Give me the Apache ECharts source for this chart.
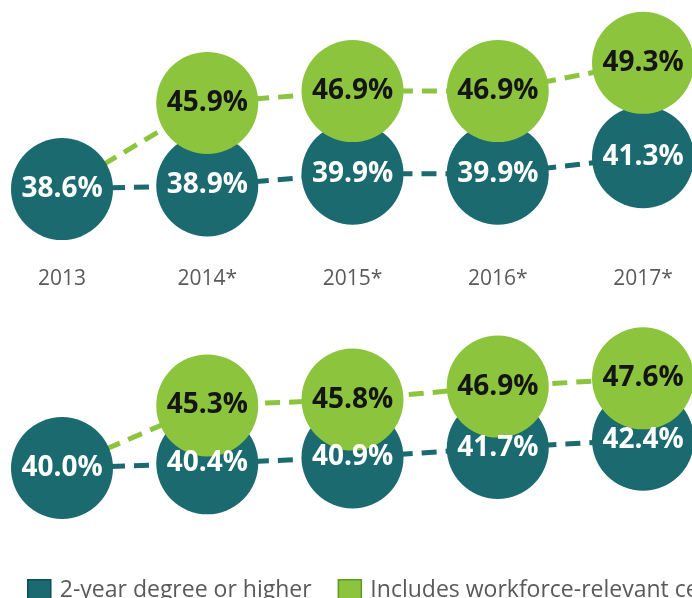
<!DOCTYPE html>
<html>
<head>
<meta charset="utf-8">
<script src="https://cdn.jsdelivr.net/npm/echarts@6/dist/echarts.min.js"></script>
<style>
  html, body { margin: 0; padding: 0; background: #ffffff; }
  #chart { width: 692px; height: 598px; }
</style>
</head>
<body>
<div id="chart"></div>
<script>
// Years shown along the bottom of the upper panel
const years = ['2013', '2014*', '2015*', '2016*', '2017*'];

// Upper panel
const degreeTop = [38.6, 38.9, 39.9, 39.9, 41.3];
const certTop = [null, 45.9, 46.9, 46.9, 49.3];

// Lower panel
const degreeBottom = [40.0, 40.4, 40.9, 41.7, 42.4];
const certBottom = [null, 45.3, 45.8, 46.9, 47.6];

const legendNames = ['2-year degree or higher', 'Includes workforce-relevant certificates'];

const TEAL = '#1b6a70';
const GREEN = '#8cc43e';

// Certificate line starts from the degree circle where no certificate value exists
function joinLine(cert, degree) {
  return cert.map((v, i) => (v == null ? degree[i] : v));
}

function pctLabel(color) {
  return {
    show: true,
    position: 'inside',
    color: color,
    opacity: 1,
    fontFamily: 'Open Sans',
    fontWeight: 'bold',
    fontSize: 28,
    formatter: p => p.value.toFixed(1) + '%'
  };
}

function panelSeries(idx, degree, cert) {
  const dash = { width: 5, type: [15, 9] };
  const axes = { xAxisIndex: idx, yAxisIndex: idx };
  return [
    // dashed connectors sit underneath the circles
    Object.assign({
      name: legendNames[0], type: 'line', data: degree, symbol: 'none', z: 1, silent: true,
      lineStyle: Object.assign({ color: TEAL }, dash)
    }, axes),
    Object.assign({
      name: legendNames[1], type: 'line', data: joinLine(cert, degree), symbol: 'none', z: 1, silent: true,
      lineStyle: Object.assign({ color: GREEN }, dash)
    }, axes),
    // circles
    Object.assign({
      name: legendNames[0], type: 'scatter', data: degree, symbolSize: 102, z: 2,
      itemStyle: { color: TEAL, opacity: 1 }
    }, axes),
    Object.assign({
      name: legendNames[1], type: 'scatter', data: cert, symbolSize: 102, z: 3,
      itemStyle: { color: GREEN, opacity: 1 }
    }, axes),
    // value labels drawn above every circle
    Object.assign({
      name: legendNames[0], type: 'scatter', data: degree, symbolSize: 102, z: 5, silent: true,
      itemStyle: { color: 'rgba(0,0,0,0)', opacity: 1 },
      label: pctLabel('#ffffff')
    }, axes),
    Object.assign({
      name: legendNames[1], type: 'scatter', data: cert, symbolSize: 102, z: 5, silent: true,
      itemStyle: { color: 'rgba(0,0,0,0)', opacity: 1 },
      label: pctLabel('#151515')
    }, axes)
  ];
}

const chart = echarts.init(document.getElementById('chart'), null, { renderer: 'canvas' });

const hiddenY = { type: 'value', min: 35, max: 50, show: false };

chart.setOption({
  backgroundColor: '#ffffff',
  animation: false,
  grid: [
    { left: 62, width: 581, top: 54.5, height: 177 },
    { left: 62, width: 581, top: 350, height: 177 }
  ],
  xAxis: [
    {
      gridIndex: 0, type: 'category', data: years, boundaryGap: false,
      axisLine: { show: false }, axisTick: { show: false },
      axisLabel: { margin: 37, color: '#5a5a5a', fontSize: 21, fontFamily: 'Open Sans' }
    },
    {
      gridIndex: 1, type: 'category', data: years, boundaryGap: false,
      axisLine: { show: false }, axisTick: { show: false }, axisLabel: { show: false }
    }
  ],
  yAxis: [
    Object.assign({ gridIndex: 0 }, hiddenY),
    Object.assign({ gridIndex: 1 }, hiddenY)
  ],
  legend: {
    left: 22, top: 574, width: 1400,
    icon: 'rect', itemWidth: 23, itemHeight: 22, itemGap: 26,
    selectedMode: false,
    textStyle: { color: '#5a5a5a', fontSize: 23, fontFamily: 'Open Sans', padding: [0, 0, 3, 4] },
    data: [
      { name: legendNames[0], itemStyle: { color: TEAL, borderColor: '#0f4f54', borderWidth: 1.5 } },
      { name: legendNames[1], itemStyle: { color: GREEN, borderColor: '#5e9a25', borderWidth: 1.5 } }
    ]
  },
  series: [].concat(
    panelSeries(0, degreeTop, certTop),
    panelSeries(1, degreeBottom, certBottom)
  )
});
</script>
</body>
</html>
